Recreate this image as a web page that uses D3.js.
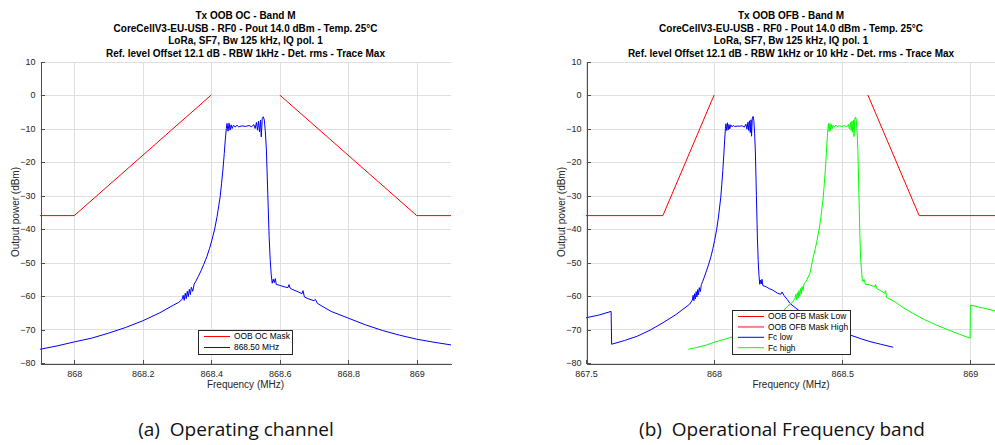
<!DOCTYPE html>
<html lang="en">
<head>
<meta charset="UTF-8">
<title>Tx OOB - Band M</title>
<script src="https://d3js.org/d3.v7.min.js"></script>
<style>
  body { margin: 0; background: #fff; }
  svg { display: block; font-family: "Liberation Sans", Arial, sans-serif; }
  .grid line { stroke: #dfdfdf; stroke-width: 1; shape-rendering: crispEdges; }
  .axis path, .axis line { stroke: #4d4d4d; shape-rendering: crispEdges; }
  .axis text { fill: #262626; font-size: 9px; }
  .title { font-weight: bold; font-size: 10px; fill: #000; text-anchor: middle; }
  .label { font-size: 10px; fill: #262626; text-anchor: middle; }
  .caption { font-family: "Open Sans", "Noto Sans", sans-serif; font-size: 19px; fill: #111; text-anchor: middle; white-space: pre; }
  .legend rect { fill: #fff; stroke: #262626; shape-rendering: crispEdges; }
  .legend text { font-size: 8.4px; fill: #000; }
  .trace { fill: none; stroke-width: 1; }
</style>
</head>
<body>
<svg id="chart" width="995" height="445"></svg>
<script>
// ---- data: (a) operating channel ----
const titleA = ["Tx OOB OC - Band M", "CoreCellV3-EU-USB - RF0 - Pout 14.0 dBm - Temp. 25°C",
  "LoRa, SF7, Bw 125 kHz, IQ pol. 1", "Ref. level Offset 12.1 dB - RBW 1kHz - Det. rms - Trace Max"];
const xTicksA = [868, 868.2, 868.4, 868.6, 868.8, 869];
const xLabelsA = ["868", "868.2", "868.4", "868.6", "868.8", "869"];

const maskOcLowF = [867.9, 868.0, 868.4];
const maskOcLowP = [-36, -36, 0];
const maskOcHighF = [868.6, 869.0, 869.1];
const maskOcHighP = [0, -36, -36];

const sigF = [867.900, 867.950, 868.000, 868.050, 868.100, 868.150, 868.200, 868.250, 868.290, 868.305, 868.315,
  868.318, 868.321, 868.324, 868.327, 868.330, 868.333, 868.336, 868.339, 868.342, 868.346, 868.350,
  868.355, 868.362, 868.370, 868.378, 868.387, 868.395, 868.402, 868.410, 868.417, 868.422, 868.426, 868.430, 868.434, 868.438, 868.441, 868.444, 868.446,
  868.449, 868.452, 868.455, 868.458, 868.461, 868.465, 868.470, 868.475, 868.480, 868.490, 868.500, 868.510, 868.518, 868.524, 868.528, 868.532, 868.535, 868.538, 868.541, 868.544, 868.546, 868.549, 868.552, 868.555,
  868.558, 868.561, 868.565, 868.569, 868.572, 868.575, 868.578, 868.581, 868.584, 868.587, 868.590, 868.597,
  868.605, 868.615, 868.624, 868.627, 868.630, 868.636, 868.650, 868.665, 868.668, 868.672, 868.685, 868.700, 868.704, 868.710, 868.723, 868.750, 868.800, 868.850, 868.900, 868.950, 869.000, 869.050, 869.100];
const sigP = [-75.9, -74.9, -73.7, -72.6, -71.1, -69.4, -67.4, -65.0, -62.7, -61.9, -61.0,
  -59.8, -61.3, -59.2, -60.8, -58.6, -60.2, -58.0, -59.6, -57.4, -58.6, -56.5,
  -55.6, -54.2, -52.5, -50.6, -48.3, -45.8, -43.3, -40.0, -36.3, -33.0, -30.4, -26.5, -22.4, -17.5, -13.4, -10.0, -8.5,
  -10.8, -8.4, -10.5, -8.9, -10.0, -9.0, -9.6, -9.0, -9.5, -9.2, -9.4, -9.1, -9.5, -8.8, -10.0, -8.2, -10.5, -7.8, -11.0, -7.5, -12.5, -7.0, -6.5, -7.5,
  -11.0, -16.4, -29.3, -42.3, -49.0, -53.5, -56.2, -55.0, -56.0, -54.8, -56.6, -56.7,
  -57.0, -57.3, -57.5, -56.6, -57.6, -58.0, -58.6, -59.3, -58.4, -60.3, -60.9, -61.4, -61.0, -62.2, -63.0, -64.6, -66.6, -68.6, -70.3, -71.7, -72.9, -73.8, -74.6];

// ---- data: (b) operational frequency band ----
const titleB = ["Tx OOB OFB - Band M", "CoreCellV3-EU-USB - RF0 - Pout 14.0 dBm - Temp. 25°C",
  "LoRa, SF7, Bw 125 kHz, IQ pol. 1", "Ref. level Offset 12.1 dB - RBW 1kHz or 10 kHz - Det. rms - Trace Max"];
const xTicksB = [867.5, 868, 868.5, 869];
const xLabelsB = ["867.5", "868", "868.5", "869"];

const maskOfbLowF = [867.5, 867.8, 868.0];
const maskOfbLowP = [-36, -36, 0];
const maskOfbHighF = [868.6, 868.8, 869.1];
const maskOfbHighP = [0, -36, -36];

const fcLowF = [867.500, 867.550, 867.598, 867.600, 867.650, 867.700, 867.750, 867.800, 867.850, 867.890, 867.905, 867.915,
  867.918, 867.921, 867.924, 867.927, 867.930, 867.933, 867.936, 867.939, 867.942, 867.946, 867.950,
  867.955, 867.962, 867.970, 867.978, 867.987, 867.995, 868.002, 868.010, 868.017, 868.022, 868.026, 868.030, 868.034, 868.038, 868.041, 868.044, 868.046,
  868.049, 868.052, 868.055, 868.058, 868.061, 868.065, 868.070, 868.075, 868.080, 868.090, 868.100, 868.110, 868.118, 868.124, 868.128, 868.132, 868.135, 868.138, 868.141, 868.144, 868.146, 868.149, 868.152, 868.155,
  868.158, 868.161, 868.165, 868.169, 868.172, 868.175, 868.178, 868.181, 868.184, 868.187, 868.190,
  868.202, 868.215, 868.228, 868.248, 868.260, 868.265, 868.273, 868.285, 868.296, 868.335, 868.400, 868.450, 868.500, 868.530, 868.570, 868.608, 868.650, 868.699];
const fcLowP = [-66.5, -65.7, -64.6, -74.4, -73.3, -72.0, -70.2, -68.0, -65.6, -63.3, -62.4, -61.2,
  -59.8, -61.4, -59.3, -60.9, -58.7, -60.3, -58.1, -59.7, -57.5, -58.7, -56.6,
  -55.7, -54.3, -52.5, -50.7, -48.4, -45.9, -43.4, -40.1, -36.4, -33.1, -30.5, -26.6, -22.5, -17.6, -13.5, -10.1, -8.6,
  -10.6, -8.3, -10.4, -8.8, -10.1, -8.9, -9.5, -9.1, -9.4, -9.3, -9.3, -9.2, -9.6, -8.7, -10.2, -8.1, -10.6, -7.7, -11.2, -7.4, -12.3, -6.9, -6.4, -7.6,
  -11.5, -17.0, -30.0, -43.0, -49.5, -53.8, -56.5, -55.3, -56.4, -55.0, -56.9,
  -57.2, -57.8, -58.2, -59.2, -59.5, -58.8, -59.9, -61.0, -62.2, -64.6, -67.4, -69.3, -70.8, -71.6, -72.7, -73.6, -74.4, -75.3];

const fcHighF = [867.899, 867.930, 867.968, 868.000, 868.059, 868.100, 868.150, 868.200, 868.257, 868.283, 868.300, 868.309, 868.316,
  868.319, 868.322, 868.325, 868.328, 868.331, 868.334, 868.337, 868.340, 868.343, 868.347, 868.351,
  868.356, 868.363, 868.374, 868.380, 868.387, 868.395, 868.402, 868.410, 868.417, 868.422, 868.426, 868.430, 868.434, 868.438, 868.441, 868.444, 868.446,
  868.449, 868.452, 868.455, 868.458, 868.461, 868.465, 868.470, 868.475, 868.480, 868.490, 868.500, 868.510, 868.518, 868.524, 868.528, 868.532, 868.535, 868.538, 868.541, 868.544, 868.546, 868.549, 868.552, 868.555,
  868.558, 868.561, 868.565, 868.569, 868.572, 868.575, 868.578, 868.581, 868.585, 868.590,
  868.608, 868.627, 868.630, 868.634, 868.650, 868.666, 868.669, 868.673, 868.705, 868.740, 868.776, 868.820, 868.868, 868.933, 868.999, 869.000, 869.050, 869.100];
const fcHighP = [-75.9, -75.4, -74.7, -73.8, -72.5, -71.4, -69.8, -67.9, -65.5, -63.3, -62.2, -61.6, -60.6,
  -59.5, -61.1, -59.0, -60.6, -58.4, -60.0, -57.8, -59.4, -57.2, -58.4, -56.3,
  -56.0, -55.0, -53.2, -51.0, -48.3, -45.8, -43.3, -40.0, -36.3, -33.0, -30.4, -26.5, -22.4, -17.5, -13.4, -10.0, -8.5,
  -10.9, -8.5, -10.6, -8.8, -10.1, -9.0, -9.6, -9.0, -9.4, -9.2, -9.4, -9.1, -9.5, -8.8, -10.1, -8.2, -10.6, -7.8, -11.1, -7.5, -12.4, -7.0, -6.6, -7.5,
  -11.2, -16.5, -29.5, -42.5, -49.2, -52.2, -55.0, -55.7, -55.0, -56.5,
  -56.7, -57.2, -56.5, -57.8, -58.4, -59.2, -58.4, -60.4, -61.7, -63.6, -65.2, -67.0, -68.7, -70.7, -72.6, -62.7, -63.6, -64.5];

// shared y axis
const yTicks = [-80, -70, -60, -50, -40, -30, -20, -10, 0, 10];
const yDomain = [-80, 10];

const svg = d3.select("#chart");

function drawPanel(p) {
  const x = d3.scaleLinear().domain(p.xDomain).range([p.left, p.right]);
  const y = d3.scaleLinear().domain(yDomain).range([363, 61.5]);
  const g = svg.append("g");

  // grid
  const grid = g.append("g").attr("class", "grid");
  grid.selectAll(".gy").data(yTicks).enter().append("line")
    .attr("x1", p.left).attr("x2", p.right)
    .attr("y1", d => Math.round(y(d)) + 0.5).attr("y2", d => Math.round(y(d)) + 0.5);
  grid.selectAll(".gx").data(p.xTicks).enter().append("line")
    .attr("y1", y(yDomain[0])).attr("y2", y(yDomain[1]))
    .attr("x1", d => Math.round(x(d)) + 0.5).attr("x2", d => Math.round(x(d)) + 0.5);

  // traces
  const line = d3.line().x(d => x(d[0])).y(d => y(d[1]));
  p.series.forEach(s => {
    g.append("path").attr("class", "trace")
      .attr("d", line(d3.zip(s.f, s.p)))
      .attr("stroke", s.color);
  });

  // axes
  g.append("g").attr("class", "axis")
    .attr("transform", `translate(0,${Math.round(y(yDomain[0])) + 0.5})`)
    .call(d3.axisBottom(x).tickValues(p.xTicks).tickFormat((d, i) => p.xLabels[i])
      .tickSize(-4).tickSizeOuter(0).tickPadding(7));
  g.append("g").attr("class", "axis")
    .attr("transform", `translate(${Math.round(p.left) + 0.5},0)`)
    .call(d3.axisLeft(y).tickValues(yTicks).tickFormat(d3.format("d"))
      .tickSize(-4).tickSizeOuter(0).tickPadding(5));

  // titles and labels
  const cx = (p.left + p.right) / 2;
  p.title.forEach((t, i) => {
    g.append("text").attr("class", "title").attr("x", cx).attr("y", 19 + i * 12.7).text(t);
  });
  g.append("text").attr("class", "label").attr("x", cx).attr("y", 388).text("Frequency (MHz)");
  g.append("text").attr("class", "label")
    .attr("transform", `translate(${p.left - 21.5},212) rotate(-90)`).text("Output power (dBm)");
  g.append("text").attr("class", "caption").attr("x", p.captionX).attr("y", 436).text(p.caption);

  // legend
  const lg = g.append("g").attr("class", "legend");
  lg.append("rect").attr("x", p.legend.x + 0.5).attr("y", p.legend.y + 0.5)
    .attr("width", p.legend.w).attr("height", p.legend.h);
  p.legend.items.forEach((it, i) => {
    const ly = p.legend.y + 6.5 + i * p.legend.step;
    lg.append("line").attr("x1", p.legend.x + 6).attr("x2", p.legend.x + 32)
      .attr("y1", ly).attr("y2", ly).attr("stroke", it.color).attr("stroke-width", it.width || 1);
    lg.append("text").attr("x", p.legend.x + 36).attr("y", ly).attr("dy", "0.35em").text(it.label);
  });
}

drawPanel({
  xDomain: [867.9, 869.1], left: 40, right: 451,
  xTicks: xTicksA, xLabels: xLabelsA, title: titleA,
  caption: "(a)  Operating channel", captionX: 236,
  series: [
    { f: maskOcLowF, p: maskOcLowP, color: "#ff0000" },
    { f: maskOcHighF, p: maskOcHighP, color: "#ff0000" },
    { f: sigF, p: sigP, color: "#0000ff" }
  ],
  legend: { x: 198, y: 330, w: 94, h: 24, step: 11, items: [
    { label: "OOB OC Mask", color: "#ff0000" },
    { label: "868.50 MHz", color: "#0000ff" }
  ] }
});

drawPanel({
  xDomain: [867.5, 869.1], left: 586, right: 996,
  xTicks: xTicksB, xLabels: xLabelsB, title: titleB,
  caption: "(b)  Operational Frequency band", captionX: 782,
  series: [
    { f: maskOfbLowF, p: maskOfbLowP, color: "#ff0000" },
    { f: maskOfbHighF, p: maskOfbHighP, color: "#ff0000" },
    { f: fcLowF, p: fcLowP, color: "#0000ff" },
    { f: fcHighF, p: fcHighP, color: "#00ff00" }
  ],
  legend: { x: 732, y: 310, w: 118, h: 44, step: 10.4, items: [
    { label: "OOB OFB Mask Low", color: "#ff0000" },
    { label: "OOB OFB Mask High", color: "#ff8080", width: 2 },
    { label: "Fc low", color: "#0000ff" },
    { label: "Fc high", color: "#00ff00" }
  ] }
});
</script>
</body>
</html>
